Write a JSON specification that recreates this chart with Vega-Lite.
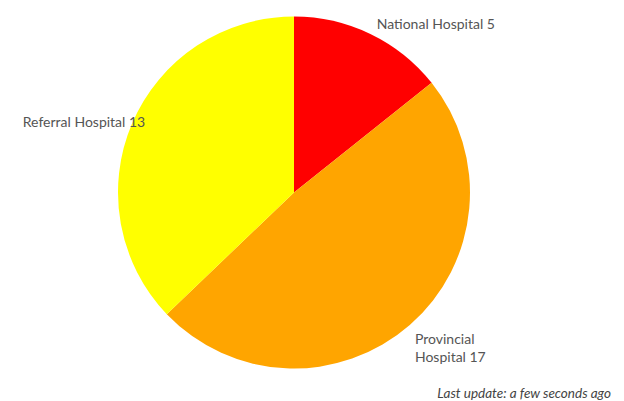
{
  "$schema": "https://vega.github.io/schema/vega-lite/v6.json",
  "width": 624,
  "height": 401,
  "autosize": {"type": "fit", "contains": "padding"},
  "padding": {"left": 0, "top": 0, "right": 13, "bottom": 0},
  "background": "white",
  "view": {"stroke": null},
  "title": {
    "text": "Last update: a few seconds ago",
    "orient": "bottom",
    "anchor": "end",
    "dx": 23,
    "offset": 2,
    "font": "Lato",
    "fontSize": 13.5,
    "fontStyle": "italic",
    "fontWeight": "normal",
    "color": "#444444"
  },
  "data": {
    "values": [
      {"name": "National Hospital", "count": 5},
      {"name": "Provincial Hospital", "count": 17},
      {"name": "Referral Hospital", "count": 13}
    ]
  },
  "transform": [
    {"stack": "count", "groupby": [], "sort": [{"field": "name"}], "as": ["t0", "t1"]},
    {"calculate": "(datum.t0 + datum.t1) / 2", "as": "mid"}
  ],
  "layer": [
    {
      "mark": {"type": "arc", "outerRadius": 176, "stroke": null},
      "encoding": {
        "theta": {"field": "t0", "type": "quantitative", "scale": {"domain": [0, 35]}},
        "theta2": {"field": "t1"},
        "color": {
          "field": "name",
          "type": "nominal",
          "scale": {"domain": ["National Hospital", "Provincial Hospital", "Referral Hospital"], "range": ["#FF0000", "#FFA500", "#FFFF00"]},
          "legend": null
        }
      }
    },
    {
      "transform": [
        {"filter": "datum.name === 'National Hospital'"},
        {"calculate": "datum.name + ' ' + datum.count", "as": "label"}
      ],
      "mark": {"type": "text", "radius": 186, "align": "left", "baseline": "middle", "dx": 2, "font": "Lato", "fontSize": 14, "color": "#555555"},
      "encoding": {
        "theta": {"field": "mid", "type": "quantitative"},
        "text": {"field": "label"}
      }
    },
    {
      "transform": [
        {"filter": "datum.name === 'Referral Hospital'"},
        {"calculate": "datum.name + ' ' + datum.count", "as": "label"}
      ],
      "mark": {"type": "text", "radius": 164, "align": "right", "baseline": "middle", "dy": -5, "dx": 2, "font": "Lato", "fontSize": 14, "color": "#555555"},
      "encoding": {
        "theta": {"field": "mid", "type": "quantitative"},
        "text": {"field": "label"}
      }
    },
    {
      "transform": [
        {"filter": "datum.name === 'Provincial Hospital'"},
        {"calculate": "['Provincial', 'Hospital ' + datum.count]", "as": "label"}
      ],
      "mark": {"type": "text", "radius": 196, "align": "left", "baseline": "middle", "dx": -8, "dy": 0, "lineHeight": 18, "font": "Lato", "fontSize": 14, "color": "#555555"},
      "encoding": {
        "theta": {"field": "mid", "type": "quantitative"},
        "text": {"field": "label"}
      }
    }
  ]
}
